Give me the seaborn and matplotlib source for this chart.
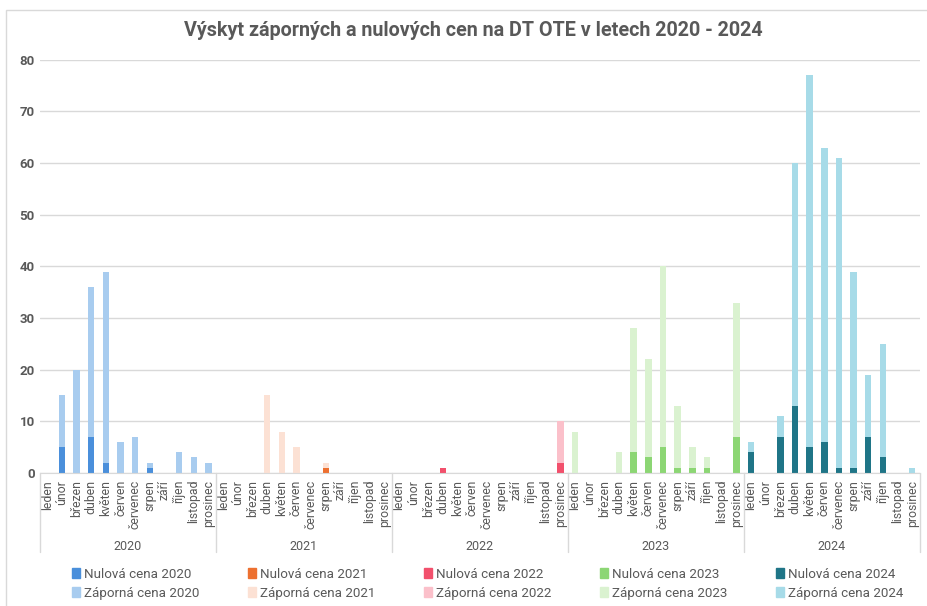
# Výskyt záporných a nulových cen na DT OTE 2020 - 2024

import pandas as pd
import matplotlib.pyplot as plt
import seaborn as sns
from matplotlib.patches import Patch, Rectangle

# Data
years = ["2020", "2021", "2022", "2023", "2024"]
months = ["leden", "únor", "březen", "duben", "květen", "červen",
          "červenec", "srpen", "září", "říjen", "listopad", "prosinec"]

# top of bar = all hours (záporná stacked on nulová), bottom = nulová
total_2020 = [0, 15, 20, 36, 39, 6, 7, 2, 0, 4, 3, 2]
nulova_2020 = [0, 5, 0, 7, 2, 0, 0, 1, 0, 0, 0, 0]
total_2021 = [0, 0, 0, 15, 8, 5, 0, 2, 0, 0, 0, 0]
nulova_2021 = [0, 0, 0, 0, 0, 0, 0, 1, 0, 0, 0, 0]
total_2022 = [0, 0, 0, 1, 0, 0, 0, 0, 0, 0, 0, 10]
nulova_2022 = [0, 0, 0, 1, 0, 0, 0, 0, 0, 0, 0, 2]
total_2023 = [8, 0, 0, 4, 28, 22, 40, 13, 5, 3, 0, 33]
nulova_2023 = [0, 0, 0, 0, 4, 3, 5, 1, 1, 1, 0, 7]
total_2024 = [6, 0, 11, 60, 77, 63, 61, 39, 19, 25, 0, 1]
nulova_2024 = [4, 0, 7, 13, 5, 6, 1, 1, 7, 3, 0, 0]

nulova_colors = {"2020": "#4a8fdb", "2021": "#ed7030", "2022": "#f2506c",
                 "2023": "#8cd674", "2024": "#1f7587"}
zaporna_colors = {"2020": "#a8ccef", "2021": "#fce1d4", "2022": "#fbc0ca",
                  "2023": "#daf2d0", "2024": "#a7dbe8"}

totals = [total_2020, total_2021, total_2022, total_2023, total_2024]
nulove = [nulova_2020, nulova_2021, nulova_2022, nulova_2023, nulova_2024]

rows = []
for y, t, n in zip(years, totals, nulove):
    for m, tv, nv in zip(months, t, n):
        rows.append({"key": y + " " + m, "rok": y, "mesic": m,
                     "celkem": tv, "nulova": nv})
df = pd.DataFrame(rows)

# Plot
sns.set_style("white")
plt.rcParams["font.family"] = ["Roboto", "DejaVu Sans"]
gray = "#595959"

fig = plt.figure(figsize=(9.27, 6.06), dpi=100)
ax = fig.add_axes([0.043, 0.2195, 0.949, 0.682])

sns.barplot(data=df, x="key", y="celkem", hue="rok", palette=zaporna_colors,
            dodge=False, width=0.44, legend=False, ax=ax, saturation=1,
            linewidth=0)
sns.barplot(data=df, x="key", y="nulova", hue="rok", palette=nulova_colors,
            dodge=False, width=0.44, legend=False, ax=ax, saturation=1,
            linewidth=0)

ax.set_ylim(0, 80)
ax.set_yticks(range(0, 81, 10))
ax.set_xlim(-0.5, len(df) - 0.5)
ax.yaxis.grid(True, color="#d9d9d9", linewidth=1)
ax.set_axisbelow(True)
for s in ["left", "top", "right"]:
    ax.spines[s].set_visible(False)
ax.spines["bottom"].set_color("#d9d9d9")
ax.set_xlabel("")
ax.set_ylabel("")
ax.set_xticks(range(len(df)))
ax.set_xticklabels(df["mesic"], rotation=90, fontsize=8.8, color=gray)
ax.tick_params(axis="x", length=0, pad=5)
ax.tick_params(axis="y", length=0, labelsize=9.5, labelcolor=gray)
for lbl in ax.get_yticklabels():
    lbl.set_fontweight("bold")

# year groups under the month labels
trans = ax.get_xaxis_transform()
n = len(months)
for i, y in enumerate(years):
    ax.plot([i * n - 0.5, i * n - 0.5], [0, -0.19], transform=trans,
            color="#d9d9d9", linewidth=1, clip_on=False)
    ax.text(i * n + (n - 1) / 2, -0.177, y, transform=trans, ha="center",
            va="center", fontsize=9, color=gray)
ax.plot([len(df) - 0.5, len(df) - 0.5], [0, -0.19], transform=trans,
        color="#d9d9d9", linewidth=1, clip_on=False)

fig.suptitle("Výskyt záporných a nulových cen na DT OTE v letech 2020 - 2024",
             x=0.511, y=0.965, fontsize=14.2, fontweight="bold", color=gray)

# legend: one column per year, aligned with the year groups
for i, y in enumerate(years):
    handles = [Patch(color=nulova_colors[y], label="Nulová cena " + y),
               Patch(color=zaporna_colors[y], label="Záporná cena " + y)]
    xpos = ax.transData.transform((i * n - 0.5, 0))[0] / fig.bbox.width + 0.026
    fig.legend(handles=handles, loc="lower left", bbox_to_anchor=(xpos, -0.003),
               frameon=False, fontsize=9.6, labelcolor=gray,
               handlelength=0.6, handleheight=0.8, handletextpad=0.3,
               labelspacing=0.45, borderaxespad=0.2)

fig.add_artist(Rectangle((0.006, -0.1), 1.1, 1.083, transform=fig.transFigure,
                         fill=False, edgecolor="#d9d9d9", linewidth=1))

fig.savefig("out.png", dpi=100)
